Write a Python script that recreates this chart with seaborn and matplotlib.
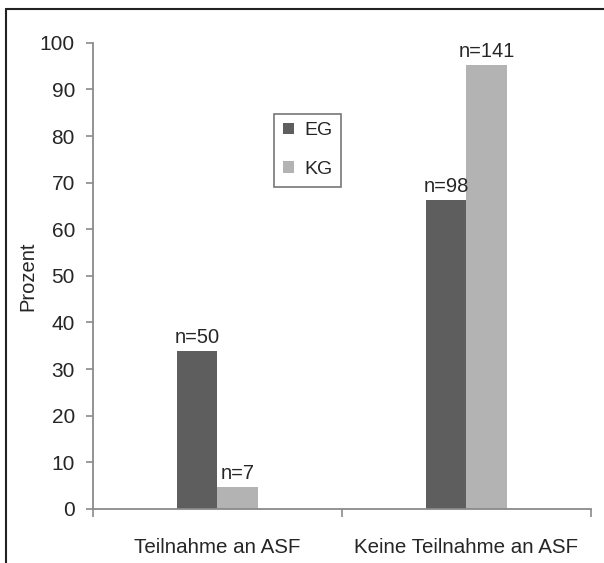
import matplotlib
matplotlib.use("Agg")
import matplotlib.pyplot as plt
from matplotlib.lines import Line2D
from matplotlib.patches import Patch
import pandas as pd
import seaborn as sns

categories = ["Teilnahme an ASF", "Keine Teilnahme an ASF"]
groups = ["EG", "KG"]
eg_values = [33.8, 66.2]
kg_values = [4.7, 95.3]
eg_counts = ["n=50", "n=98"]
kg_counts = ["n=7", "n=141"]
y_ticks = [0, 10, 20, 30, 40, 50, 60, 70, 80, 90, 100]
colors = {"EG": "#5e5e5e", "KG": "#b3b3b3"}

df = pd.DataFrame({
    "Kategorie": categories * 2,
    "Gruppe": ["EG"] * len(categories) + ["KG"] * len(categories),
    "Prozent": eg_values + kg_values,
    "n": eg_counts + kg_counts,
})

sns.set_style("white")
plt.rcParams["font.family"] = ["Liberation Sans", "DejaVu Sans"]

fig = plt.figure(figsize=(6.04, 5.63), dpi=100)
ax = fig.add_axes([0.154, 0.096, 0.824, 0.828])

sns.barplot(data=df, x="Kategorie", y="Prozent", hue="Gruppe",
            order=categories, hue_order=groups, palette=colors,
            width=0.325, saturation=1, edgecolor="none", linewidth=0,
            ax=ax, legend=False)

# count labels above each bar
for container, grp in zip(ax.containers, groups):
    labels = df[df["Gruppe"] == grp].set_index("Kategorie").loc[categories, "n"].tolist()
    ax.bar_label(container, labels=labels, padding=3, fontsize=14.5, clip_on=False)

ax.set_xlim(-0.5, 1.5)
ax.set_ylim(0, 100)
ax.set_yticks(y_ticks)
ax.set_ylabel("Prozent", fontsize=14.5)
ax.yaxis.set_label_coords(-0.112, 0.5)
ax.set_xlabel("")

spine_col = "#8a8a8a"
for side in ["top", "right"]:
    ax.spines[side].set_visible(False)
for side in ["left", "bottom"]:
    ax.spines[side].set_color(spine_col)
    ax.spines[side].set_linewidth(1.3)

ax.tick_params(axis="y", which="major", direction="out", length=5, width=1.2,
               color=spine_col, labelsize=15, pad=8, left=True)
ax.tick_params(axis="x", which="major", length=0, labelsize=14.8, pad=21)
ax.set_xticks([-0.5, 0.5, 1.5], minor=True)
ax.tick_params(axis="x", which="minor", direction="out", length=6, width=1.2,
               color=spine_col, bottom=True)

handles = [Patch(facecolor=colors[g], edgecolor="none", label=g) for g in groups]
leg = ax.legend(handles=handles, loc="upper left", bbox_to_anchor=(0.364, 0.848),
                fontsize=14, frameon=True, fancybox=False, handlelength=0.55,
                handleheight=0.55, handletextpad=0.55, labelspacing=1.1,
                borderpad=0.45, borderaxespad=0)
leg.get_frame().set_edgecolor("#555555")
leg.get_frame().set_linewidth(1.2)

# outer frame lines (top and left)
x0 = 6 / 604
y0 = 1 - 9 / 563
fig.add_artist(Line2D([x0, 1], [y0, y0], color="#222222", lw=1.5))
fig.add_artist(Line2D([x0, x0], [0, y0], color="#222222", lw=1.5))

fig.savefig("out.png", dpi=100)
